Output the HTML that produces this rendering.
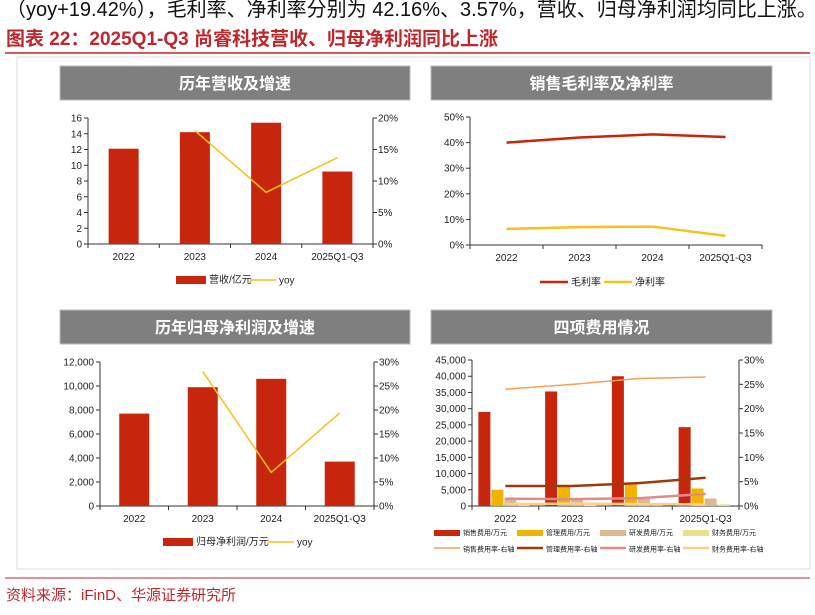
<!DOCTYPE html>
<html><head><meta charset="utf-8"><style>
body{margin:0;background:#fff;width:815px;height:610px;overflow:hidden;font-family:"Liberation Sans","Noto Sans CJK SC",sans-serif}
svg text{font-family:"Liberation Sans","Noto Sans CJK SC",sans-serif}
</style></head><body>
<svg id="s" width="815" height="610">
<text x="6" y="16" font-size="20" fill="#111">（yoy+19.42%），毛利率、净利率分别为 42.16%、3.57%，营收、归母净利润均同比上涨。</text>
<text x="6" y="45" font-size="19" font-weight="bold" fill="#c0272d">图表 22：2025Q1-Q3 尚睿科技营收、归母净利润同比上涨</text>
<line x1="5" y1="53" x2="810" y2="53" stroke="#c0272d" stroke-width="1.5"/>
<rect x="17" y="57" width="793" height="512" fill="none" stroke="#ddd"/>
<line x1="5" y1="578" x2="810" y2="578" stroke="#c0272d" stroke-width="1"/>
<text x="6" y="600" font-size="15" fill="#c0272d">资料来源：iFinD、华源证券研究所</text>
<g id="g"></g>
</svg>
<script>
const cats=["2022","2023","2024","2025Q1-Q3"];
const revenue=[12.1,14.2,15.4,9.2];
const revYoy=[null,18,8.2,13.7];
const grossMargin=[40,42,43.2,42.2];
const netMargin=[6.3,7,7.2,3.57];
const profit=[7700,9900,10600,3700];
const profitYoy=[null,28,7,19.4];
const salesExp=[29000,35300,40000,24300];
const adminExp=[5000,5900,6600,5400];
const rdExp=[2500,2000,2500,2300];
const finExp=[300,200,100,500];
const salesRate=[24,25,26.2,26.5];
const adminRate=[4.1,4.1,4.7,5.8];
const rdRate=[1.5,1.4,1.6,2.5];
const finRate=[0.4,0.5,0.4,0.3];
const revTicks=[0,2,4,6,8,10,12,14,16];
const pctTicks20=[0,5,10,15,20];
const pctTicks50=[0,10,20,30,40,50];
const profitTicks=[0,2000,4000,6000,8000,10000,12000];
const pctTicks30=[0,5,10,15,20,25,30];
const expTicks=[0,5000,10000,15000,20000,25000,30000,35000,40000,45000];

const NS="http://www.w3.org/2000/svg",G=document.getElementById('g');
function el(t,a,p){const e=document.createElementNS(NS,t);for(const k in a)e.setAttribute(k,a[k]);(p||G).appendChild(e);return e;}
function txt(x,y,s,a,name){const e=el('text',Object.assign({x:x,y:y,'font-size':10,fill:'#222'},a||{}));e.textContent=s;

return e;}
function fmt(v){return v.toLocaleString('en-US');}
function header(x,w,y,h,s,name){const r=el('rect',{x:x,y:y,width:w,height:h,fill:'#7f7f7f',stroke:'#bbb'});


txt(x+w/2,y+h/2+6,s,{'text-anchor':'middle','font-size':16,'font-weight':'bold',fill:'#fff'},name+'-title');}
function axes(o){
 const yL=v=>o.base-(v-o.lmin)/(o.lmax-o.lmin)*(o.base-o.top);
 const yR=v=>o.base-v/o.rmax*(o.base-o.top);
 const bw=(o.x1-o.x0)/cats.length;const cx=i=>o.x0+bw*(i+0.5);
 const a=el('line',{x1:o.x0,y1:o.top,x2:o.x0,y2:o.base,stroke:'#333'});
 const b=el('line',{x1:o.x0,y1:o.base,x2:o.x1,y2:o.base,stroke:'#333'});
 o.lt.forEach(v=>{el('line',{x1:o.x0-4,x2:o.x0,y1:yL(v),y2:yL(v),stroke:'#333'});txt(o.x0-6,yL(v)+3.5,o.lf(v),{'text-anchor':'end'},'left-tick-label');});
 if(o.rt){const c=el('line',{x1:o.x1,y1:o.top,x2:o.x1,y2:o.base,stroke:'#333'});
 o.rt.forEach(v=>{el('line',{x1:o.x1,x2:o.x1+4,y1:yR(v),y2:yR(v),stroke:'#333'});txt(o.x1+5,yR(v)+3.5,v+'%',{},'right-tick-label');});}
 for(let i=0;i<=cats.length;i++)el('line',{x1:o.x0+bw*i,x2:o.x0+bw*i,y1:o.base,y2:o.base+4,stroke:'#333'});
 cats.forEach((c,i)=>txt(cx(i),o.base+16,c,{'text-anchor':'middle'},'x-tick-label'));
 return {yL,yR,cx,bw};}
function line(vals,f,cx,color,w,name){const pts=[];vals.forEach((v,i)=>{if(v!=null)pts.push(cx(i)+','+f(v));});
 const p=el('polyline',{points:pts.join(' '),fill:'none',stroke:color,'stroke-width':w});
 
 }
function bars(vals,f,x,w,base,color,name){vals.forEach((v,i)=>{const r=el('rect',{x:x(i),y:f(v),width:w,height:base-f(v),fill:color});
 
 });}
function legRect(x,y,w,h,c,s,fs){const r=el('rect',{x:x,y:y,width:w,height:h,fill:c});
 txt(x+w+3,y+h-1,s,{'font-size':fs||10},'legend-label');}
function legLine(x,y,w,c,sw,s,fs){const r=el('line',{x1:x,x2:x+w,y1:y,y2:y,stroke:c,'stroke-width':sw});
 txt(x+w+3,y+3.5,s,{'font-size':fs||10},'legend-label');}

header(60,350,66,34,'历年营收及增速','revenue-chart');
let A=axes({x0:88,x1:373,top:118,base:244,lmin:0,lmax:16,rmax:20,lt:revTicks,rt:pctTicks20,lf:v=>v});
bars(revenue,A.yL,i=>A.cx(i)-15,30,244,'#c8260c','revenue-bar');
line(revYoy,A.yR,A.cx,'#f5c21b',1.5,'revenue-yoy-line');
legRect(176,276,30,8,'#c8260c','营收/亿元');legLine(250,280,26,'#f5c21b',1.5,'yoy');

header(431,341,66,34,'销售毛利率及净利率','margin-chart');
let B=axes({x0:470,x1:762,top:117,base:245,lmin:0,lmax:50,lt:pctTicks50,lf:v=>v+'%'});
line(grossMargin,B.yL,B.cx,'#c8260c',2.5,'gross-margin-line');
line(netMargin,B.yL,B.cx,'#f5c21b',2.5,'net-margin-line');
legLine(540,282,28,'#c8260c',2.5,'毛利率');legLine(604,282,28,'#f5c21b',2.5,'净利率');

header(60,350,310,34,'历年归母净利润及增速','profit-chart');
let C=axes({x0:100,x1:374,top:362,base:506,lmin:0,lmax:12000,rmax:30,lt:profitTicks,rt:pctTicks30,lf:fmt});
bars(profit,C.yL,i=>C.cx(i)-15,30,506,'#c8260c','profit-bar');
line(profitYoy,C.yR,C.cx,'#f5c21b',1.5,'profit-yoy-line');
legRect(163,538,30,8,'#c8260c','归母净利润/万元');legLine(268,542,26,'#f5c21b',1.5,'yoy');

header(431,341,310,34,'四项费用情况','expense-chart');
let D=axes({x0:472,x1:739,top:360,base:506,lmin:0,lmax:45000,rmax:30,lt:expTicks,rt:pctTicks30,lf:fmt});
const bw4=12;
bars(salesExp,D.yL,i=>D.cx(i)-27,bw4,506,'#c8260c','sales-expense-bar');
bars(adminExp,D.yL,i=>D.cx(i)-14,bw4,506,'#f0b400','admin-expense-bar');
bars(rdExp,D.yL,i=>D.cx(i)-1,bw4,506,'#d9b98e','rd-expense-bar');
bars(finExp,D.yL,i=>D.cx(i)+12,bw4,506,'#e8e08a','finance-expense-bar');
line(salesRate,D.yR,D.cx,'#f6a05a',1.5,'sales-rate-line');
line(adminRate,D.yR,D.cx,'#9c3a0e',2.5,'admin-rate-line');
line(rdRate,D.yR,D.cx,'#e08a8a',2.5,'rd-rate-line');
line(finRate,D.yR,D.cx,'#fbd08a',2.5,'finance-rate-line');
legRect(434,530,26,6,'#c8260c','销售费用/万元',7);legRect(517,530,26,6,'#f0b400','管理费用/万元',7);
legRect(600,530,26,6,'#d9b98e','研发费用/万元',7);legRect(683,530,26,6,'#e8e08a','财务费用/万元',7);
legLine(434,548,26,'#f6a05a',1.5,'销售费用率-右轴',7);legLine(517,548,26,'#9c3a0e',2.5,'管理费用率-右轴',7);
legLine(600,548,26,'#e08a8a',2.5,'研发费用率-右轴',7);legLine(683,548,26,'#fbd08a',2.5,'财务费用率-右轴',7);
</script>
</body></html>
